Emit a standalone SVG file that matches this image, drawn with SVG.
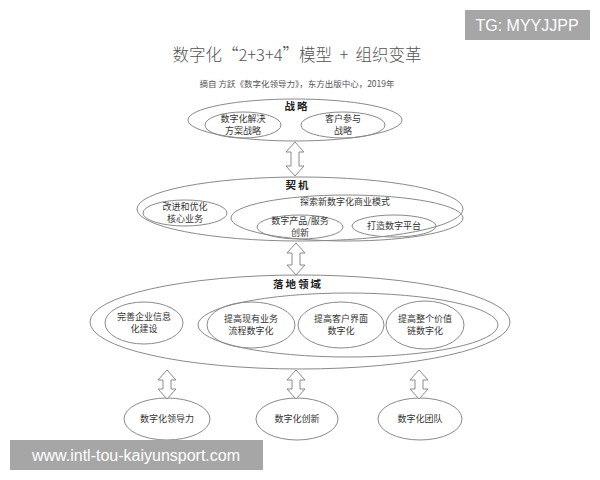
<svg xmlns="http://www.w3.org/2000/svg" width="600" height="480" viewBox="0 0 600 480">
<style>
.e{fill:none;stroke:#8a8a8a;stroke-width:1}
.t{font-family:"Noto Sans CJK SC","Liberation Sans",sans-serif;font-size:9px;fill:#333;text-anchor:middle}
.b{font-family:"Noto Sans CJK SC","Liberation Sans",sans-serif;font-size:10.5px;font-weight:bold;fill:#222;text-anchor:middle;letter-spacing:2px}
.a{fill:#fff;stroke:#8a8a8a;stroke-width:1}
</style>
<rect width="600" height="480" fill="#fff"/>
<text x="297" y="61" font-family="'Noto Sans CJK SC','Liberation Serif',serif" font-size="16.5" font-weight="300" fill="#555" text-anchor="middle" xml:space="preserve">数字化“2+3+4”模型  +  组织变革</text>
<text x="297" y="87" font-family="'Noto Sans CJK SC','Liberation Sans',sans-serif" font-size="8.5" fill="#555" text-anchor="middle">摘自 方跃《数字化领导力》，东方出版中心，2019年</text>

<g id="strategy">
<ellipse class="e" cx="295" cy="120" rx="107" ry="21"/>
<text class="b" x="297" y="110">战略</text>
<ellipse class="e" cx="243" cy="125" rx="38" ry="13"/>
<text class="t" x="243" y="122">数字化解决</text>
<text class="t" x="243" y="134">方案战略</text>
<ellipse class="e" cx="343" cy="125" rx="42" ry="13"/>
<text class="t" x="343" y="122">客户参与</text>
<text class="t" x="343" y="134">战略</text>
</g>

<g id="opportunity">
<ellipse class="e" cx="300" cy="209" rx="163" ry="32"/>
<text class="b" x="298" y="189">契机</text>
<ellipse class="e" cx="185" cy="213" rx="42" ry="13"/>
<text class="t" x="185" y="210">改进和优化</text>
<text class="t" x="185" y="222">核心业务</text>
<ellipse class="e" cx="347" cy="218" rx="116" ry="23"/>
<text class="t" x="345" y="205">探索新数字化商业模式</text>
<ellipse class="e" cx="300" cy="227" rx="43" ry="12"/>
<text class="t" x="300" y="224">数字产品/服务</text>
<text class="t" x="300" y="236">创新</text>
<ellipse class="e" cx="394" cy="226" rx="42" ry="11"/>
<text class="t" x="394" y="229">打造数字平台</text>
</g>

<g id="landing">
<ellipse class="e" cx="300" cy="322" rx="210" ry="47"/>
<text class="b" x="298" y="288">落地领域</text>
<ellipse class="e" cx="144" cy="323" rx="39" ry="21"/>
<text class="t" x="144" y="320">完善企业信息</text>
<text class="t" x="144" y="332">化建设</text>
<ellipse class="e" cx="348" cy="325" rx="150" ry="32"/>
<ellipse class="e" cx="251" cy="325" rx="44" ry="23"/>
<text class="t" x="251" y="322">提高现有业务</text>
<text class="t" x="251" y="334">流程数字化</text>
<ellipse class="e" cx="341" cy="325" rx="43" ry="23"/>
<text class="t" x="341" y="322">提高客户界面</text>
<text class="t" x="341" y="334">数字化</text>
<ellipse class="e" cx="425" cy="325" rx="39" ry="24"/>
<text class="t" x="425" y="322">提高整个价值</text>
<text class="t" x="425" y="334">链数字化</text>
</g>

<g id="leadership">
<ellipse class="e" cx="167" cy="419" rx="43" ry="21"/>
<text class="t" x="167" y="422">数字化领导力</text>
</g>
<g id="innovation">
<ellipse class="e" cx="297" cy="419" rx="41" ry="21"/>
<text class="t" x="297" y="422">数字化创新</text>
</g>
<g id="team">
<ellipse class="e" cx="420" cy="419" rx="42" ry="21"/>
<text class="t" x="420" y="422">数字化团队</text>
</g>

<g id="connectors">
<path class="a" d="M295,142 L304,152 L299,152 L299,166 L304,166 L295,176 L286,166 L291,166 L291,152 L286,152 Z"/>
<path class="a" d="M296,243 L305,253 L300,253 L300,265 L305,265 L296,275 L287,265 L292,265 L292,253 L287,253 Z"/>
<path class="a" d="M167,370 L176,380 L171,380 L171,389 L176,389 L167,399 L158,389 L163,389 L163,380 L158,380 Z"/>
<path class="a" d="M296,370 L305,380 L300,380 L300,389 L305,389 L296,399 L287,389 L292,389 L292,380 L287,380 Z"/>
<path class="a" d="M419,370 L428,380 L423,380 L423,389 L428,389 L419,399 L410,389 L415,389 L415,380 L410,380 Z"/>
</g>

<g id="watermark-top">
<rect x="465" y="10" width="125" height="30" fill="#a6a6a6"/>
<text x="527" y="31" font-family="'Liberation Sans',sans-serif" font-size="16" fill="#fff" text-anchor="middle">TG: MYYJJPP</text>
</g>
<g id="watermark-bottom">
<rect x="10" y="440" width="253" height="30" fill="#a6a6a6"/>
<text x="136" y="461" font-family="'Liberation Sans',sans-serif" font-size="16" fill="#fff" text-anchor="middle">www.intl-tou-kaiyunsport.com</text>
</g>
</svg>
